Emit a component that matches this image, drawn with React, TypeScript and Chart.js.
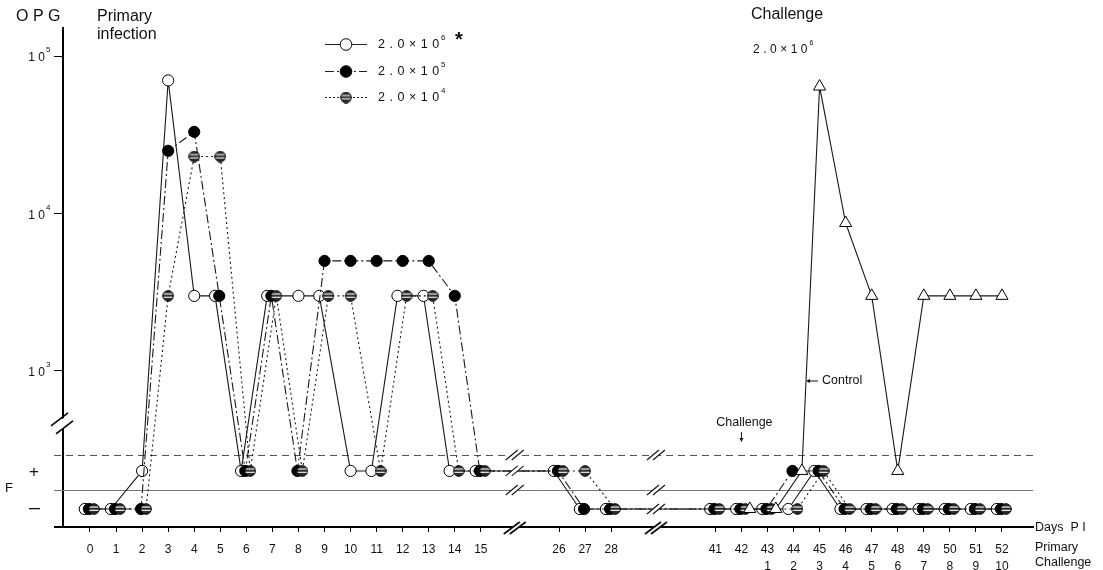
import React, { useEffect, useRef } from 'react';
import Chart from 'chart.js/auto';

const FONT = '"Liberation Sans", Arial, Helvetica, sans-serif';

// Broken x axis: one slot per category; empty strings are the gaps at the axis breaks
const axisCategories = ['0','1','2','3','4','5','6','7','8','9','10','11','12','13','14','15','','','26','27','28','','','','41','42','43','44','45','46','47','48','49','50','51','52'];

// Days post primary infection (x tick labels, first row)
const days = [0,1,2,3,4,5,6,7,8,9,10,11,12,13,14,15,26,27,28,41,42,43,44,45,46,47,48,49,50,51,52];
// Days post challenge (x tick labels, second row)
const challengeLabels = ['','','','','','','','','','','','','','','','','','','','','','1','2','3','4','5','6','7','8','9','10'];

type Obs = number | '+' | '-' | null;
// OPG values, '+' = feces positive (below counting level), '-' = negative
const dose2e6: Obs[] = ['-','-','+',70000,3000,3000,'+',3000,3000,3000,'+','+',3000,3000,'+','+', '+','-','-', '-','-','-','-','+','-','-','-','-','-','-','-'];
const dose2e5: Obs[] = ['-','-','-',25000,33000,3000,'+',3000,'+',5000,5000,5000,5000,5000,3000,'+', '+','-','-', '-','-','-','+','+','-','-','-','-','-','-','-'];
const dose2e4: Obs[] = ['-','-','-',3000,23000,23000,'+',3000,'+',3000,3000,'+',3000,3000,'+','+', '+','+','-', '-','-','-','-','+','-','-','-','-','-','-','-'];
const controlChallenge: Obs[] = [null,null,null,null,null,null,null,null,null,null,null,null,null,null,null,null, null,null,null, null,'-','-','+',64000,8700,3000,'+',3000,3000,3000,3000];

const legendMantissa = '2.0×10';
const legendExponents = ['6', '5', '4'];
const yTickValues = [1000, 10000, 100000];

// y-axis layout (log scale) for the feces rows below the axis break
const Y_MIN = 102.2;
const Y_MAX = 150600;
const F_PLUS = 232;
const F_MINUS = 133;
const F_THRESHOLD = 293;
const F_DIVIDER = 175.6;
const Y_BREAK = 468;
const X_BREAKS = [16.3, 21.72];

const slotOf = (d: number) => axisCategories.indexOf(String(d));
const yOf = (v: Obs) => (v === '+' ? F_PLUS : v === '-' ? F_MINUS : (v as number));

const allSeries = [dose2e6, dose2e5, dose2e4, controlChallenge];
const dodge = [-0.2, -0.04, 0.15, 0.32];

function pointsFor(si: number) {
  const s = allSeries[si];
  const out: { x: number; y: number }[] = [];
  days.forEach((d, i) => {
    const v = s[i];
    if (v == null) return;
    const shared = allSeries.some((o, oi) => oi !== si && o[i] != null && o[i] === v);
    out.push({ x: slotOf(d) + (shared ? dodge[si] : 0), y: yOf(v) });
  });
  return out;
}

function makeStriped(): HTMLCanvasElement {
  const c = document.createElement('canvas');
  c.width = 12; c.height = 12;
  const g = c.getContext('2d')!;
  g.beginPath(); g.arc(6, 6, 5.3, 0, Math.PI * 2); g.fillStyle = '#2c2c2c'; g.fill();
  g.save(); g.clip();
  g.fillStyle = '#fff'; g.fillRect(0, 3.5, 12, 1.1); g.fillRect(0, 6.8, 12, 1.1);
  g.restore();
  g.beginPath(); g.arc(6, 6, 5.3, 0, Math.PI * 2); g.strokeStyle = '#000'; g.lineWidth = 1; g.stroke();
  return c;
}

function drawPower(ctx: CanvasRenderingContext2D, m: string, e: string, x: number, y: number, size: number, spacing: number) {
  ctx.save();
  ctx.font = `${size}px ${FONT}`;
  (ctx as any).letterSpacing = `${spacing}px`;
  ctx.textAlign = 'left'; ctx.textBaseline = 'middle';
  ctx.fillText(m, x, y);
  const w = ctx.measureText(m).width;
  (ctx as any).letterSpacing = '0px';
  ctx.font = `${Math.round(size * 0.62)}px ${FONT}`;
  ctx.fillText(e, x + w - spacing + 2, y - size * 0.55);
  ctx.restore();
}

export default function App() {
  const ref = useRef<HTMLCanvasElement | null>(null);
  useEffect(() => {
    const canvas = ref.current;
    if (!canvas) return;
    const striped = makeStriped();

    const drawBreak = (ctx: CanvasRenderingContext2D, cx: number, cy: number, big: boolean) => {
      const hx = big ? 8 : 6, hy = big ? 6 : 5, off = 3;
      ctx.fillStyle = '#fff';
      ctx.beginPath();
      ctx.moveTo(cx - off - hx, cy + hy + 1);
      ctx.lineTo(cx - off + hx, cy - hy - 1);
      ctx.lineTo(cx + off + hx, cy - hy - 1);
      ctx.lineTo(cx + off - hx, cy + hy + 1);
      ctx.closePath(); ctx.fill();
      ctx.strokeStyle = '#111'; ctx.lineWidth = big ? 1.8 : 1.1;
      for (const s of [-off, off]) {
        ctx.beginPath(); ctx.moveTo(cx + s - hx, cy + hy); ctx.lineTo(cx + s + hx, cy - hy); ctx.stroke();
      }
    };

    const decor = {
      id: 'decor',
      beforeDatasetsDraw(chart: any) {
        const { ctx, chartArea: ca, scales } = chart;
        const ys = scales.y;
        ctx.save();
        const yd = Math.round(ys.getPixelForValue(F_THRESHOLD)) + 0.5;
        ctx.strokeStyle = '#555'; ctx.lineWidth = 1; ctx.setLineDash([7, 5]);
        ctx.beginPath(); ctx.moveTo(54, yd); ctx.lineTo(ca.right, yd); ctx.stroke();
        ctx.setLineDash([]);
        const yl = Math.round(ys.getPixelForValue(F_DIVIDER)) + 0.5;
        ctx.strokeStyle = '#777';
        ctx.beginPath(); ctx.moveTo(54, yl); ctx.lineTo(ca.right, yl); ctx.stroke();
        ctx.restore();
      },
      afterDraw(chart: any) {
        const { ctx, chartArea: ca, scales } = chart;
        const xs = scales.x, ys = scales.y;
        const px = (s: number) => xs.getPixelForValue(s);
        const py = (v: number) => ys.getPixelForValue(v);
        ctx.save();
        // bottom axis extension left of the y axis
        ctx.strokeStyle = '#000'; ctx.lineWidth = 2;
        ctx.beginPath(); ctx.moveTo(54, ca.bottom); ctx.lineTo(ca.left, ca.bottom); ctx.stroke();

        // x-axis breaks
        const baseRows = [py(F_THRESHOLD), py(F_DIVIDER)];
        for (const bs of X_BREAKS) {
          const bx = px(bs);
          const rows = [...baseRows];
          chart.getSortedVisibleDatasetMetas().forEach((meta: any) => {
            const pts = meta.data;
            for (let i = 0; i < pts.length - 1; i++) {
              const a = pts[i], b = pts[i + 1];
              if (a.x < bx && b.x > bx) {
                const yy = a.y + (b.y - a.y) * (bx - a.x) / (b.x - a.x);
                if (!rows.some((q) => Math.abs(q - yy) < 3)) rows.push(yy);
              }
            }
          });
          rows.forEach((yy) => drawBreak(ctx, bx, yy, false));
          drawBreak(ctx, bx, ca.bottom + 1, true);
        }

        // y-axis break
        const yb = py(Y_BREAK);
        const ax = ca.left;
        ctx.fillStyle = '#fff';
        ctx.beginPath();
        ctx.moveTo(ax - 10, yb - 4 + 7);
        ctx.lineTo(ax + 6, yb - 4 - 5);
        ctx.lineTo(ax + 10, yb + 5 - 7);
        ctx.lineTo(ax - 6, yb + 5 + 5);
        ctx.closePath(); ctx.fill();
        ctx.strokeStyle = '#000'; ctx.lineWidth = 1.6;
        ctx.beginPath(); ctx.moveTo(ax - 12, yb - 4 + 7); ctx.lineTo(ax + 5, yb - 4 - 6); ctx.stroke();
        ctx.beginPath(); ctx.moveTo(ax - 7, yb + 5 + 6); ctx.lineTo(ax + 10, yb + 5 - 7); ctx.stroke();

        ctx.fillStyle = '#111';
        ctx.textBaseline = 'middle';
        // titles
        ctx.font = `16px ${FONT}`; ctx.textAlign = 'left';
        ctx.fillText('O P G', 16, 17);
        ctx.fillText('Primary', 97, 17);
        ctx.fillText('infection', 97, 35);
        ctx.fillText('Challenge', 751, 15);
        drawPower(ctx, '2.0×10', '6', 753, 50, 12, 3.5);
        ctx.font = `bold 20px ${FONT}`;
        ctx.fillText('*', 455, 40);

        // y tick labels
        yTickValues.forEach((v) => {
          const ty = py(v);
          ctx.font = `12px ${FONT}`; ctx.textAlign = 'right';
          ctx.fillText('1 0', 45, ty + 2);
          ctx.font = `8px ${FONT}`; ctx.textAlign = 'left';
          ctx.fillText(String(Math.round(Math.log10(v))), 46, ty - 6);
        });

        // F rows
        ctx.font = `13px ${FONT}`; ctx.textAlign = 'left';
        ctx.fillText('F', 5, 488);
        ctx.font = `17px ${FONT}`; ctx.textAlign = 'center';
        ctx.fillText('+', 34, py(F_PLUS) + 1);
        ctx.fillRect(29, py(F_MINUS) - 1, 11, 1.3);

        // right-side axis captions
        ctx.font = `12.5px ${FONT}`; ctx.textAlign = 'left';
        ctx.fillText('Days  P I', 1035, ca.bottom + 1);
        ctx.fillText('Primary', 1035, 548);
        ctx.fillText('Challenge', 1035, 563);

        // annotations
        const cX = px(slotOf(42));
        ctx.font = `12.5px ${FONT}`; ctx.textAlign = 'center';
        ctx.fillText('Challenge', cX + 3, 423);
        ctx.strokeStyle = '#111'; ctx.lineWidth = 1;
        ctx.beginPath(); ctx.moveTo(cX, 432); ctx.lineTo(cX, 440); ctx.stroke();
        ctx.beginPath(); ctx.moveTo(cX - 2, 438); ctx.lineTo(cX, 442); ctx.lineTo(cX + 2, 438); ctx.closePath(); ctx.fill();

        ctx.textAlign = 'left';
        ctx.fillText('Control', 822, 381);
        ctx.beginPath(); ctx.moveTo(809, 381); ctx.lineTo(818, 381); ctx.stroke();
        ctx.beginPath(); ctx.moveTo(806, 381); ctx.lineTo(810, 379); ctx.lineTo(810, 383); ctx.closePath(); ctx.fill();

        // legend
        const legendY = [44, 71, 97];
        const dashes = [[], [9, 3, 2, 3], [2, 2]];
        legendExponents.forEach((e, i) => {
          const y = legendY[i] + 0.5;
          ctx.strokeStyle = '#222'; ctx.lineWidth = 1; ctx.setLineDash(dashes[i]);
          ctx.beginPath(); ctx.moveTo(325, y); ctx.lineTo(367, y); ctx.stroke();
          ctx.setLineDash([]);
          if (i === 2) {
            ctx.drawImage(striped, 340, y - 6);
          } else {
            ctx.beginPath(); ctx.arc(346, y, 5.8, 0, Math.PI * 2);
            ctx.fillStyle = i === 0 ? '#fff' : '#000'; ctx.fill();
            ctx.strokeStyle = '#000'; ctx.stroke();
          }
          ctx.fillStyle = '#111';
          drawPower(ctx, legendMantissa, e, 378, y, 12.5, 4.5);
        });
        ctx.restore();
      },
    };

    const pointBase = { pointRadius: 5.6, pointBorderWidth: 1, pointBorderColor: '#000', borderWidth: 1.1, tension: 0, fill: false };
    const chart = new Chart(canvas, {
      type: 'line',
      data: {
        datasets: [
          { ...pointBase, label: '2.0×10^6', data: pointsFor(0), borderColor: '#1a1a1a', pointBackgroundColor: '#fff', pointStyle: 'circle', order: 4 },
          { ...pointBase, label: '2.0×10^5', data: pointsFor(1), borderColor: '#1a1a1a', borderDash: [9, 3, 2, 3], pointBackgroundColor: '#000', pointStyle: 'circle', order: 3 },
          { ...pointBase, label: '2.0×10^4', data: pointsFor(2), borderColor: '#1a1a1a', borderDash: [2, 3], pointStyle: striped, order: 2 },
          { ...pointBase, label: 'Control', data: pointsFor(3), borderColor: '#1a1a1a', pointBackgroundColor: '#fff', pointStyle: 'triangle', pointRadius: 7, order: 1 },
        ] as any,
      },
      options: {
        animation: false,
        responsive: false,
        events: [],
        layout: { padding: { left: 0, right: 70, top: 28, bottom: 0 } },
        plugins: { legend: { display: false }, tooltip: { enabled: false } },
        scales: {
          x: {
            type: 'linear', position: 'bottom', min: -1.036, max: 36.19, bounds: 'data',
            afterBuildTicks: (s: any) => { s.ticks = days.map((d) => ({ value: slotOf(d) })); },
            afterFit: (s: any) => { s.height = 43; },
            grid: { drawOnChartArea: false, drawTicks: true, tickLength: 5, color: '#000', lineWidth: 1 },
            border: { display: true, color: '#000', width: 2 },
            ticks: {
              autoSkip: false, maxRotation: 0, minRotation: 0, padding: 9, color: '#111',
              font: { family: FONT, size: 12, lineHeight: 1.42 },
              callback: (value: any) => {
                const i = days.findIndex((d) => slotOf(d) === Math.round(value));
                if (i < 0) return '';
                const c = challengeLabels[i];
                return c ? [String(days[i]), c] : String(days[i]);
              },
            },
          },
          y: {
            type: 'logarithmic', min: Y_MIN, max: Y_MAX, bounds: 'data',
            afterBuildTicks: (s: any) => { s.ticks = yTickValues.map((v) => ({ value: v })); },
            afterFit: (s: any) => { s.width = 63; },
            grid: { drawOnChartArea: false, drawTicks: true, tickLength: 9, color: '#000', lineWidth: 1 },
            border: { display: true, color: '#000', width: 2 },
            ticks: { display: false },
          },
        },
      } as any,
      plugins: [decor],
    });
    return () => chart.destroy();
  }, []);

  return (
    <div style={{ position: 'absolute', left: 0, top: 0, width: 1103, height: 570, background: '#fff' }}>
      <canvas ref={ref} width={1103} height={570} style={{ display: 'block' }} />
    </div>
  );
}
